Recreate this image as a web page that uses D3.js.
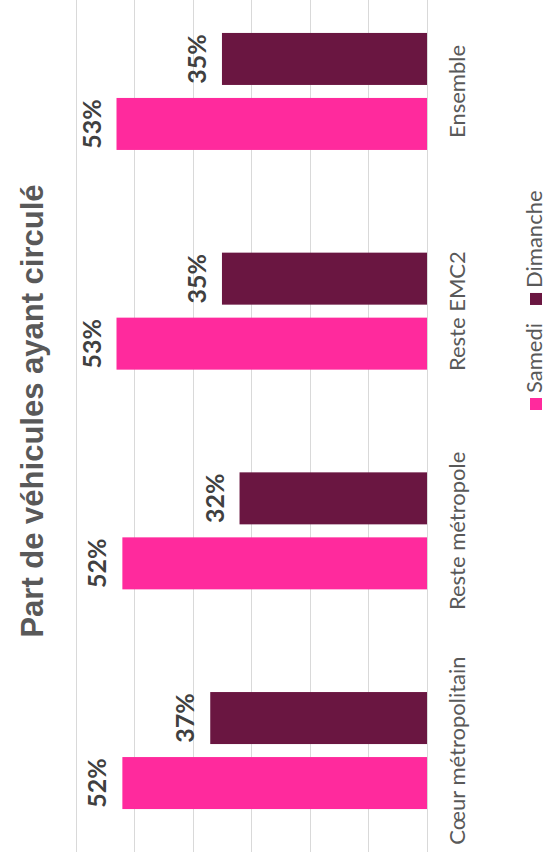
<!DOCTYPE html>
<html>
<head>
  <meta charset='utf-8'>
  <style>
    body { margin: 0; background: #fff; }
    svg { display: block; }
  </style>
  <script src="https://cdn.jsdelivr.net/npm/d3@7"></script>
</head>
<body>
  <script>
    const categories = ["Cœur métropolitain", "Reste métropole", "Reste EMC2", "Ensemble"];
    const series = ["Samedi", "Dimanche"];
    const samedi = [0.52, 0.52, 0.53, 0.53];
    const dimanche = [0.37, 0.32, 0.35, 0.35];
    const ticks = [0, 0.1, 0.2, 0.3, 0.4, 0.5, 0.6];
    const title = "Part de véhicules ayant circulé";

    const colors = { Samedi: "#ff2a9d", Dimanche: "#6a1641" };
    const values = { Samedi: samedi, Dimanche: dimanche };

    // the chart is drawn upright then turned a quarter to the left
    const [W, H] = [866, 548];
    const svg = d3.select("body").append("svg")
      .attr("width", 548).attr("height", 866);
    const g = svg.append("g").attr("transform", `translate(0,${W}) rotate(-90)`);

    const x0 = d3.scaleBand().domain(categories).range([5.6, 884.4]);
    const x1 = d3.scaleBand().domain(series).range([0, 117]).paddingInner(0.2);
    const off = (x0.bandwidth() - 117) / 2;
    const y = d3.scaleLinear().domain([0, 0.6]).range([427, 75.5]);

    g.append("g").selectAll("line")
      .data(ticks)
      .join("line")
      .attr("x1", 14).attr("x2", W)
      .attr("y1", d => Math.round(y(d)) + 0.5).attr("y2", d => Math.round(y(d)) + 0.5)
      .attr("stroke", "#d9d9d9");

    const rows = categories.flatMap((c, i) => series.map(s => ({ c, s, v: values[s][i] })));

    g.append("g").selectAll("rect")
      .data(rows)
      .join("rect")
      .attr("x", d => x0(d.c) + off + x1(d.s))
      .attr("width", x1.bandwidth())
      .attr("y", d => y(d.v))
      .attr("height", d => y(0) - y(d.v))
      .attr("fill", d => colors[d.s]);

    g.append("g").selectAll("text")
      .data(rows)
      .join("text")
      .attr("x", d => x0(d.c) + off + x1(d.s) + x1.bandwidth() / 2)
      .attr("y", d => y(d.v) - 16)
      .attr("text-anchor", "middle")
      .attr("font-family", "Lato, 'Open Sans', sans-serif")
      .attr("font-weight", "bold")
      .attr("font-size", 25)
      .attr("fill", "#404040")
      .text(d => d3.format(".0%")(d.v));

    g.append("g").selectAll("text")
      .data(categories)
      .join("text")
      .attr("x", d => x0(d) + x0.bandwidth() / 2)
      .attr("y", 465)
      .attr("text-anchor", "middle")
      .attr("font-family", "Lato, 'Open Sans', sans-serif")
      .attr("font-size", 22)
      .attr("fill", "#595959")
      .text(d => d);

    g.append("text")
      .attr("x", 455).attr("y", 43)
      .attr("text-anchor", "middle")
      .attr("font-family", "'Liberation Sans', Arial, sans-serif")
      .attr("font-weight", "bold")
      .attr("font-size", 31)
      .attr("fill", "#595959")
      .text(title);

    const legend = g.append("g").attr("transform", "translate(456,0)");
    let lx = 0;
    series.forEach(s => {
      const item = legend.append("g").attr("transform", `translate(${lx},0)`);
      item.append("rect").attr("x", 0).attr("y", 530).attr("width", 12).attr("height", 12)
        .attr("fill", colors[s]);
      const t = item.append("text").attr("x", 17).attr("y", 542)
        .attr("font-family", "Lato, 'Open Sans', sans-serif")
        .attr("font-size", 22)
        .attr("fill", "#595959")
        .text(s);
      lx += 17 + t.node().getComputedTextLength() + 18;
    });
  </script>
</body>
</html>
